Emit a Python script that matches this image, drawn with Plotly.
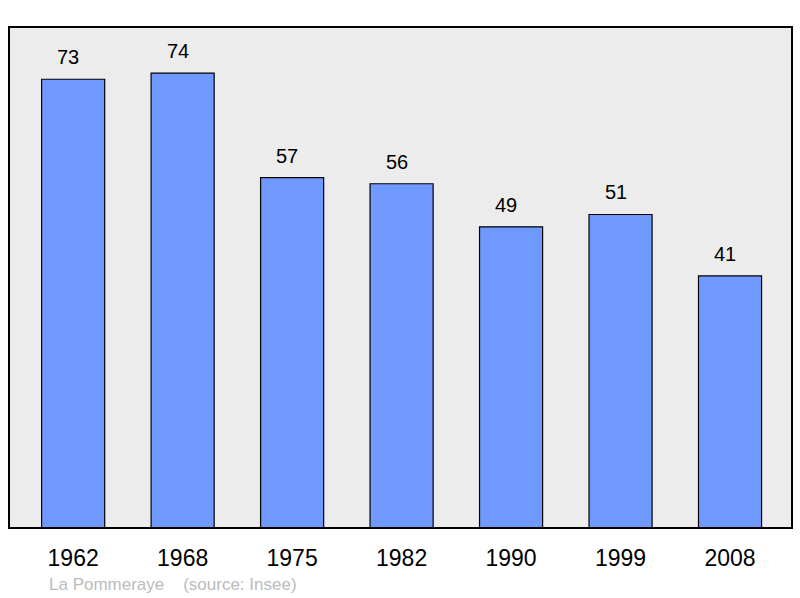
import plotly.graph_objects as go

years = ["1962", "1968", "1975", "1982", "1990", "1999", "2008"]
population = [73, 74, 57, 56, 49, 51, 41]
footer_text = "La Pommeraye    (source: Insee)"

fig = go.Figure()
fig.add_trace(go.Bar(
    x=years, y=population, width=0.576,
    marker=dict(color="#7099ff", line=dict(color="#000000", width=1.2)),
    hoverinfo="skip",
))

for i, v in enumerate(population):
    fig.add_annotation(x=i, y=v, text=str(v), showarrow=False, yanchor="bottom",
                       yshift=9, xshift=-5,
                       font=dict(family="Liberation Sans, Arial", size=20, color="#000"))

fig.add_annotation(xref="paper", yref="paper", x=(47 - 9) / 783, y=-0.112, text=footer_text,
                   showarrow=False, xanchor="left", yanchor="middle",
                   font=dict(family="Liberation Sans, Arial", size=17, color="#bbbbbb"))

fig.add_shape(type="rect", xref="paper", yref="paper", x0=0, x1=1, y0=0, y1=1,
              line=dict(color="#000000", width=2), layer="above")

fig.update_layout(
    width=800, height=598,
    margin=dict(l=9, r=8, t=27, b=70),
    paper_bgcolor="#ffffff", plot_bgcolor="#ececec",
    showlegend=False,
    xaxis=dict(type="category", range=[-0.586, 6.566], showgrid=False, zeroline=False,
               showline=False, ticks="outside", ticklen=9, tickcolor="rgba(0,0,0,0)",
               tickfont=dict(family="Liberation Sans, Arial", size=23, color="#000")),
    yaxis=dict(range=[0, 81.5], showgrid=False, zeroline=False, showticklabels=False, showline=False),
)

fig.write_html("out.html", config={"displayModeBar": False},
               post_script="document.body.style.margin='0';")
